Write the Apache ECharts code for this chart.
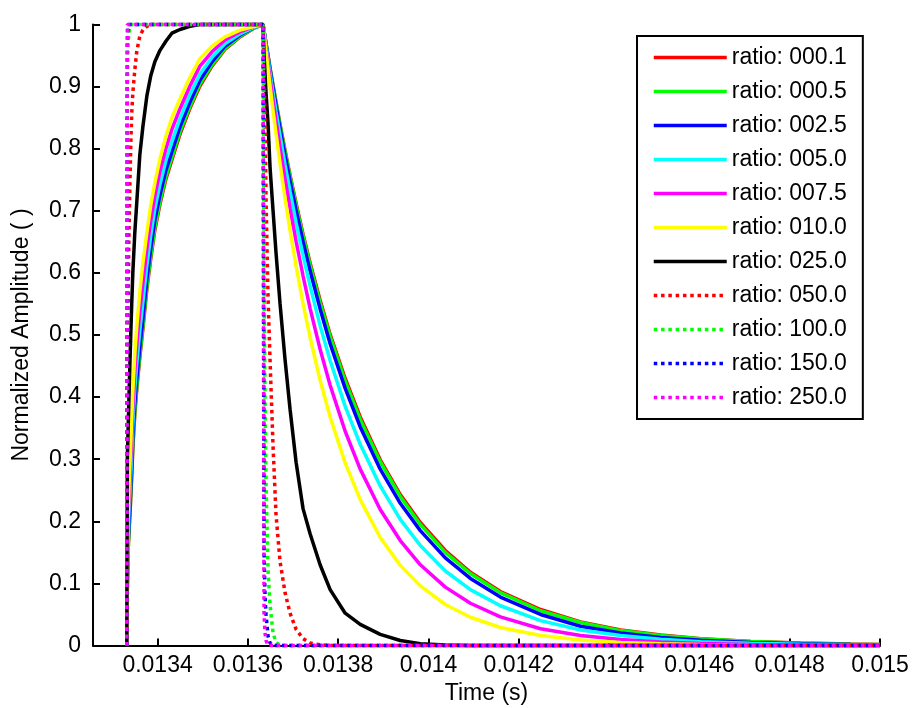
<!DOCTYPE html>
<html>
<head>
<meta charset="utf-8">
<title>Normalized Amplitude</title>
<script src="https://cdn.jsdelivr.net/npm/echarts@6/dist/echarts.min.js"></script>
<style>
    html, body { margin: 0; padding: 0; background: #fff; }
    #chart { width: 912px; height: 708px; }
</style>
</head>
<body>
<div id="chart"></div>
<script>
    // sample times (s): pulse rise at ~0.013333, fall at ~0.013634
    const time = [
        0.0133319, 0.0133330, 0.0133341, 0.0133363, 0.0133386, 0.0133408, 0.0133430, 0.0133452, 0.0133496, 0.0133541,
        0.0133607, 0.0133674, 0.0133763, 0.0133851, 0.0133940, 0.0134051, 0.0134184, 0.0134317, 0.0134495, 0.0134717,
        0.0134938, 0.0135205, 0.0135493, 0.0135826, 0.0136158, 0.0136336,
        0.0136358, 0.0136380, 0.0136402, 0.0136447, 0.0136491, 0.0136558, 0.0136624, 0.0136713, 0.0136824, 0.0136935,
        0.0137068, 0.0137223, 0.0137378, 0.0137600, 0.0137822, 0.0138155, 0.0138488, 0.0138931, 0.0139375, 0.0139819,
        0.0140373, 0.0140928, 0.0141593, 0.0142481, 0.0143368, 0.0144255, 0.0145142, 0.0146030, 0.0147139, 0.0148248,
        0.0149357, 0.0150000
    ];

    const ratio000_1 = [
        0, 0.09, 0.14, 0.178, 0.207, 0.242, 0.277, 0.318, 0.373, 0.414, 0.464, 0.509, 0.574, 0.624, 0.669, 0.71,
        0.751, 0.782, 0.823, 0.865, 0.901, 0.933, 0.96, 0.98, 0.995, 1,
        0.99, 0.98, 0.97, 0.95, 0.93, 0.902, 0.875, 0.839, 0.797, 0.757, 0.712, 0.662, 0.616, 0.556, 0.501, 0.43,
        0.368, 0.299, 0.243, 0.198, 0.153, 0.118, 0.087, 0.058, 0.038, 0.025, 0.017, 0.011, 0.0066, 0.0039, 0.0023, 0.0017
    ];
    const ratio000_5 = [
        0, 0.09, 0.14, 0.18, 0.21, 0.245, 0.28, 0.322, 0.377, 0.418, 0.468, 0.513, 0.578, 0.628, 0.673, 0.714,
        0.755, 0.786, 0.827, 0.868, 0.904, 0.935, 0.961, 0.981, 0.995, 1,
        0.99, 0.979, 0.969, 0.949, 0.93, 0.901, 0.873, 0.838, 0.795, 0.755, 0.709, 0.659, 0.613, 0.552, 0.498, 0.426,
        0.364, 0.296, 0.24, 0.195, 0.15, 0.116, 0.085, 0.056, 0.037, 0.024, 0.016, 0.011, 0.0063, 0.0037, 0.0022, 0.0016
    ];
    const ratio002_5 = [
        0, 0.1, 0.15, 0.19, 0.22, 0.255, 0.29, 0.335, 0.39, 0.43, 0.48, 0.525, 0.59, 0.64, 0.685, 0.725,
        0.765, 0.795, 0.835, 0.875, 0.91, 0.94, 0.965, 0.983, 0.996, 1,
        0.989, 0.979, 0.968, 0.948, 0.927, 0.898, 0.869, 0.833, 0.789, 0.748, 0.701, 0.65, 0.603, 0.542, 0.486, 0.414,
        0.352, 0.284, 0.229, 0.185, 0.141, 0.108, 0.078, 0.05, 0.031, 0.02, 0.013, 0.0085, 0.005, 0.003, 0.0018, 0.0013
    ];
    const ratio005_0 = [
        0, 0.106, 0.162, 0.21, 0.24, 0.278, 0.314, 0.357, 0.414, 0.455, 0.507, 0.552, 0.612, 0.661, 0.703, 0.742,
        0.781, 0.811, 0.848, 0.887, 0.92, 0.947, 0.969, 0.985, 0.996, 1,
        0.988, 0.977, 0.966, 0.944, 0.922, 0.89, 0.86, 0.821, 0.774, 0.731, 0.681, 0.628, 0.579, 0.515, 0.459, 0.385,
        0.324, 0.257, 0.203, 0.161, 0.12, 0.09, 0.064, 0.04, 0.025, 0.016, 0.01, 0.0062, 0.0035, 0.0019, 0.0011, 0.0008
    ];
    const ratio007_5 = [
        0, 0.113, 0.176, 0.23, 0.265, 0.305, 0.342, 0.384, 0.442, 0.485, 0.538, 0.583, 0.639, 0.685, 0.724, 0.763,
        0.8, 0.831, 0.864, 0.901, 0.933, 0.956, 0.975, 0.988, 0.997, 1,
        0.987, 0.974, 0.962, 0.937, 0.913, 0.878, 0.845, 0.802, 0.751, 0.704, 0.651, 0.595, 0.543, 0.477, 0.419, 0.345,
        0.284, 0.219, 0.169, 0.13, 0.094, 0.068, 0.046, 0.027, 0.016, 0.0097, 0.0058, 0.0034, 0.0018, 0.0009, 0.0005, 0.0003
    ];
    const ratio010_0 = [
        0, 0.12, 0.19, 0.25, 0.29, 0.33, 0.37, 0.41, 0.47, 0.515, 0.57, 0.615, 0.665, 0.71, 0.745, 0.783,
        0.82, 0.85, 0.88, 0.915, 0.945, 0.965, 0.98, 0.991, 0.997, 1,
        0.985, 0.971, 0.956, 0.928, 0.901, 0.861, 0.824, 0.776, 0.72, 0.668, 0.611, 0.55, 0.496, 0.427, 0.368, 0.294,
        0.235, 0.174, 0.129, 0.096, 0.066, 0.0455, 0.029, 0.016, 0.0088, 0.0049, 0.0027, 0.0015, 0.0007, 0.0003, 0.0002, 0.0001
    ];
    const ratio025_0 = [
        0, 0.3, 0.33, 0.39, 0.45, 0.505, 0.555, 0.6, 0.665, 0.715, 0.79, 0.835, 0.885, 0.918, 0.94, 0.958,
        0.973, 0.986, 0.992, 0.997, 1, 1, 1, 1, 1, 1,
        0.95, 0.92, 0.89, 0.84, 0.77, 0.7, 0.632, 0.55, 0.46, 0.38, 0.295, 0.22, 0.18, 0.13, 0.09, 0.052,
        0.034, 0.018, 0.008, 0.003, 0.001, 0, 0, 0, 0, 0, 0, 0, 0, 0, 0, 0
    ];
    const ratio050_0 = [
        0, 0.35, 0.5, 0.65, 0.74, 0.81, 0.86, 0.89, 0.927, 0.958, 0.981, 0.991, 0.997, 1, 1, 1,
        1, 1, 1, 1, 1, 1, 1, 1, 1, 1,
        0.93, 0.85, 0.72, 0.56, 0.46, 0.32, 0.21, 0.135, 0.085, 0.052, 0.026, 0.011, 0.004, 0.001, 0, 0,
        0, 0, 0, 0, 0, 0, 0, 0, 0, 0, 0, 0, 0, 0, 0, 0
    ];
    const ratio100_0 = [
        0, 0.9, 0.96, 0.985, 0.995, 1, 1, 1, 1, 1, 1, 1, 1, 1, 1, 1,
        1, 1, 1, 1, 1, 1, 1, 1, 1, 1,
        0.6, 0.4, 0.26, 0.12, 0.065, 0.02, 0.005, 0, 0, 0, 0, 0, 0, 0, 0, 0,
        0, 0, 0, 0, 0, 0, 0, 0, 0, 0, 0, 0, 0, 0, 0, 0
    ];
    const ratio150_0 = [
        0, 0.97, 0.99, 1, 1, 1, 1, 1, 1, 1, 1, 1, 1, 1, 1, 1,
        1, 1, 1, 1, 1, 1, 1, 1, 1, 1,
        0.15, 0.08, 0.05, 0.015, 0.004, 0, 0, 0, 0, 0, 0, 0, 0, 0, 0, 0,
        0, 0, 0, 0, 0, 0, 0, 0, 0, 0, 0, 0, 0, 0, 0, 0
    ];
    const ratio250_0 = [
        0, 1, 1, 1, 1, 1, 1, 1, 1, 1, 1, 1, 1, 1, 1, 1,
        1, 1, 1, 1, 1, 1, 1, 1, 1, 1,
        0.05, 0.02, 0.008, 0, 0, 0, 0, 0, 0, 0, 0, 0, 0, 0, 0, 0,
        0, 0, 0, 0, 0, 0, 0, 0, 0, 0, 0, 0, 0, 0, 0, 0
    ];

    const xTicks = [0.0134, 0.0136, 0.0138, 0.014, 0.0142, 0.0144, 0.0146, 0.0148, 0.015];

    const lines = [
        { name: 'ratio: 000.1', values: ratio000_1, color: '#ff0000', dotted: false },
        { name: 'ratio: 000.5', values: ratio000_5, color: '#00ff00', dotted: false },
        { name: 'ratio: 002.5', values: ratio002_5, color: '#0000ff', dotted: false },
        { name: 'ratio: 005.0', values: ratio005_0, color: '#00ffff', dotted: false },
        { name: 'ratio: 007.5', values: ratio007_5, color: '#ff00ff', dotted: false },
        { name: 'ratio: 010.0', values: ratio010_0, color: '#ffff00', dotted: false },
        { name: 'ratio: 025.0', values: ratio025_0, color: '#000000', dotted: false },
        { name: 'ratio: 050.0', values: ratio050_0, color: '#ff0000', dotted: true },
        { name: 'ratio: 100.0', values: ratio100_0, color: '#00ff00', dotted: true },
        { name: 'ratio: 150.0', values: ratio150_0, color: '#0000ff', dotted: true },
        { name: 'ratio: 250.0', values: ratio250_0, color: '#ff00ff', dotted: true }
    ];

    const font = 'Liberation Sans, Arial, Helvetica, sans-serif';
    const fs = 23;

    let series = lines.map(function (l) {
        return {
            name: l.name,
            type: 'line',
            data: time.map(function (t, i) { return [t, l.values[i]]; }),
            symbol: 'none',
            clip: false,
            color: l.color,
            lineStyle: {
                color: l.color,
                width: 3.5,
                type: l.dotted ? [3.5, 3.8] : 'solid',
                cap: 'butt'
            }
        };
    });

    let option = {
        animation: false,
        backgroundColor: '#fff',
        textStyle: { fontFamily: font },
        grid: {
            left: 93,
            right: 32,
            top: 24.5,
            bottom: 62.5,
            outerBoundsMode: 'none'
        },
        legend: {
            orient: 'vertical',
            left: 637,
            top: 36,
            itemWidth: 73,
            itemHeight: 14,
            itemGap: 11,
            padding: [10, 16, 10, 15],
            borderColor: '#000',
            borderWidth: 2,
            backgroundColor: '#fff',
            // hide the marker circle, keep the line sample
            itemStyle: { opacity: 0 },
            lineStyle: { width: 3.5 },
            textStyle: { fontSize: fs, color: '#000', fontFamily: font },
            data: lines.map(function (l) { return l.name; })
        },
        xAxis: {
            type: 'value',
            min: 0.013257,
            max: 0.015,
            name: 'Time (s)',
            nameLocation: 'middle',
            nameGap: 37,
            nameTextStyle: { fontSize: fs, color: '#000', fontFamily: font },
            axisLine: { show: true, lineStyle: { color: '#000', width: 2 } },
            axisTick: {
                show: true,
                inside: true,
                length: 7,
                customValues: xTicks,
                lineStyle: { color: '#000', width: 2 }
            },
            axisLabel: {
                customValues: xTicks,
                fontSize: fs,
                color: '#000',
                margin: 9,
                formatter: function (v) { return String(v); }
            },
            splitLine: { show: false }
        },
        yAxis: {
            type: 'value',
            min: 0,
            max: 1,
            interval: 0.1,
            name: 'Normalized Amplitude ( )',
            nameLocation: 'middle',
            nameGap: 60,
            nameTextStyle: { fontSize: fs, color: '#000', fontFamily: font },
            axisLine: { show: true, lineStyle: { color: '#000', width: 2 } },
            axisTick: {
                show: true,
                inside: true,
                length: 7,
                lineStyle: { color: '#000', width: 2 }
            },
            axisLabel: { fontSize: fs, color: '#000', margin: 12 },
            splitLine: { show: false }
        },
        series: series
    };

    let chart = echarts.init(document.getElementById('chart'), null, { renderer: 'canvas' });
    chart.setOption(option);
    window.onresize = chart.resize;
</script>
</body>
</html>
